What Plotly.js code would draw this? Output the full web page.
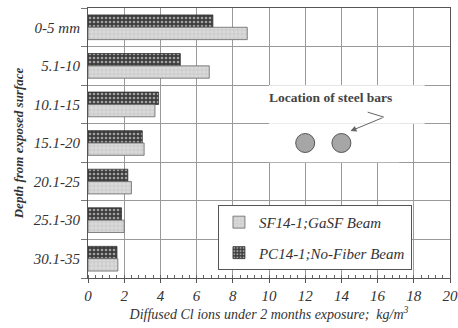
<!DOCTYPE html>
<html>
<head>
<meta charset="utf-8">
<script src="https://cdn.plot.ly/plotly-3.0.1.min.js"></script>
<style>html,body{margin:0;padding:0;background:#fff;}#chart{width:458px;height:328px;}</style>
</head>
<body>
<div id="chart"></div>
<script>
// Data
const depths = ["0-5 mm", "5.1-10", "10.1-15", "15.1-20", "20.1-25", "25.1-30", "30.1-35"];
const sfValues = [8.8, 6.7, 3.7, 3.1, 2.4, 2.0, 1.65];   // SF14-1;GaSF Beam
const pcValues = [6.9, 5.1, 3.9, 3.0, 2.2, 1.85, 1.6];   // PC14-1;No-Fiber Beam
const barX = [12, 14];                                   // steel bar locations
const barY = ["15.1-20", "15.1-20"];
const xTicks = [0, 2, 4, 6, 8, 10, 12, 14, 16, 18, 20];

const serif = "Liberation Serif, Times New Roman, serif";
const txt = "#333";

const tracePC = {
  type: "bar", orientation: "h", name: "<i>PC14-1;No-Fiber Beam</i>",
  y: depths, x: pcValues, legendgroup: "pc", legendrank: 2,
  marker: {
    color: "#3c3c3c",
    line: {color: "#333", width: 0.8},
    pattern: {shape: ".", bgcolor: "#3c3c3c", fgcolor: "#a0a0a0", size: 4, solidity: 0.35}
  }
};
const traceSF = {
  type: "bar", orientation: "h", name: "<i>SF14-1;GaSF Beam</i>",
  y: depths, x: sfValues, legendgroup: "sf", legendrank: 1,
  marker: {
    color: "#d6d6d6",
    line: {color: "#666", width: 0.8},
    pattern: {shape: "+", bgcolor: "#dadada", fgcolor: "#c4c4c4", size: 4, solidity: 0.3}
  }
};
const traceSteel = {
  type: "scatter", mode: "markers", x: barX, y: barY, showlegend: false, hoverinfo: "skip",
  marker: {size: 19, color: "#a6a6a6", line: {color: "#555", width: 1}}
};

const layout = {
  width: 458, height: 328,
  margin: {l: 88, r: 8, t: 8, b: 50},
  paper_bgcolor: "#fff", plot_bgcolor: "#fff",
  barmode: "group", bargap: 0.36, bargroupgap: 0,
  showlegend: true,
  legend: {
    x: 0.359, y: 0.03, xanchor: "left", yanchor: "bottom",
    bgcolor: "#fff", bordercolor: "#555", borderwidth: 1,
    traceorder: "grouped", tracegroupgap: 8,
    font: {family: serif, size: 15, style: "italic", color: txt}
  },
  xaxis: {
    range: [0, 20], tickvals: xTicks, ticktext: xTicks.map(v => "<i>" + v + "</i>"),
    ticks: "outside", ticklen: 4, tickcolor: "#555",
    showgrid: true, gridcolor: "#9a9a9a", gridwidth: 1,
    showline: true, linecolor: "#555", linewidth: 1, mirror: true,
    zeroline: false,
    minor: {dtick: 0.4, ticks: "inside", ticklen: 3, tickcolor: "#666", showgrid: false},
    tickfont: {family: serif, size: 15, style: "italic", color: txt},
    title: {text: "<i>Diffused Cl ions under 2 months exposure;  kg/m<sup>3</sup></i>", standoff: 6,
            font: {family: serif, size: 14, style: "italic", color: txt}}
  },
  yaxis: {
    type: "category", categoryorder: "array", categoryarray: depths,
    tickvals: depths, ticktext: depths.map(d => "<i>" + d + "</i>"),
    autorange: "reversed",
    tickson: "boundaries", ticks: "outside", ticklen: 6, tickcolor: "#777",
    ticklabelstandoff: 4,
    showgrid: true, gridcolor: "#9a9a9a", gridwidth: 1,
    showline: true, linecolor: "#555", linewidth: 1, mirror: true,
    tickfont: {family: serif, size: 15, style: "italic", color: txt},
    title: {text: "<b><i>Depth from exposed surface</i></b>", standoff: 6,
            font: {family: serif, size: 13, style: "italic", weight: "bold", color: txt}}
  },
  shapes: [
    {type: "rect", layer: "between", xref: "x", yref: "y", x0: 10, x1: 18.6, y0: 1.5, y1: 2.5,
     fillcolor: "#fff", line: {width: 0}},
    {type: "rect", layer: "between", xref: "x", yref: "y", x0: 10, x1: 17.2, y0: 2.5, y1: 3.5,
     fillcolor: "#fff", line: {width: 0}},
    {type: "line", xref: "x", yref: "y", x0: 15.45, y0: 2.2, x1: 16.35, y1: 2.33,
     line: {color: "#666", width: 1}}
  ],
  annotations: [
    {xref: "x", yref: "y", x: 13.4, y: 1.83, text: "<b>Location of steel bars</b>", showarrow: false,
     font: {family: serif, size: 13.5, weight: "bold", color: "#444"}},
    {xref: "x", yref: "y", x: 14.5, y: 2.69, axref: "x", ayref: "y", ax: 16.35, ay: 2.33,
     text: "", showarrow: true, arrowhead: 2, arrowsize: 1.2, arrowwidth: 1, arrowcolor: "#666"}
  ]
};

Plotly.newPlot("chart", [tracePC, traceSF, traceSteel], layout, {displayModeBar: false, staticPlot: true});
</script>
</body>
</html>
